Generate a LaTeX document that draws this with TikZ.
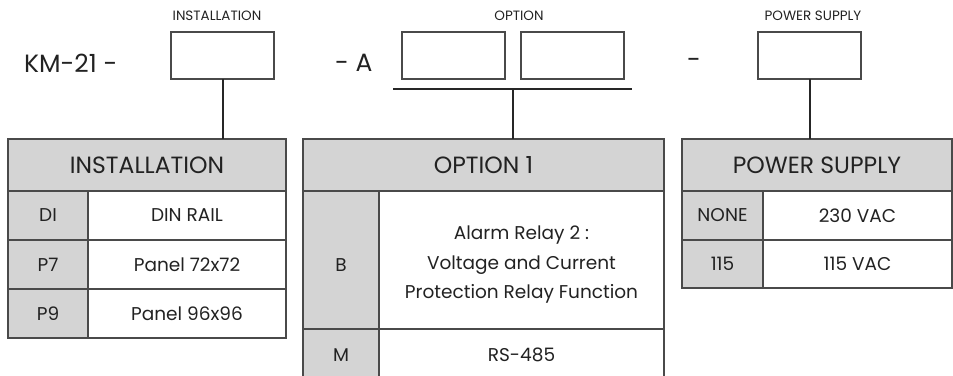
\documentclass[tikz,border=0pt]{standalone}
\usepackage{fontspec}
\setmainfont{Poppins}
\definecolor{cellgray}{HTML}{D4D4D4}
\definecolor{linegray}{HTML}{4A4A4A}
\definecolor{txt}{HTML}{222222}
\begin{document}
\begin{tikzpicture}[x=1pt,y=-1pt,
  cell/.style={draw=linegray, line width=1.3pt, anchor=north west, inner sep=0pt, outer sep=0pt, align=center, text=txt, font=\fontsize{18.5}{29.5}\selectfont},
  codecell/.style={cell, fill=cellgray},
  headcell/.style={cell, fill=cellgray, font=\fontsize{23.5}{28}\selectfont},
  celltext/.style={inner sep=0pt, align=center, text=txt, font=\fontsize{18.5}{29.5}\selectfont},
  codebox/.style={draw=linegray, line width=1.1pt, anchor=north west, inner sep=0pt, outer sep=0pt, minimum width=103pt, minimum height=47pt},
  smalllbl/.style={text=txt, font=\fontsize{13.5}{16}\selectfont, inner sep=0pt},
  biglbl/.style={text=txt, font=\fontsize{25}{30}\selectfont, inner sep=0pt},
  conn/.style={draw=black!85, line width=2pt}
]
\clip (0,0) rectangle (953,375);
\useasboundingbox (0,0) rectangle (953,375);

% top code line
\node[biglbl, anchor=west] (km) at (24,63) {KM-21 -};
\node[codebox] (b1) at (171,32) {};
\node[biglbl, anchor=west] (da) at (335,63) {- A};
\node[codebox] (b2) at (402,32) {};
\node[codebox] (b3) at (521,32) {};
\node[biglbl] (dash) at (694,63) {-};
\node[codebox] (b4) at (758,32) {};

\node[smalllbl] (l1) at (217,16) {INSTALLATION};
\node[smalllbl] (l2) at (519,16) {OPTION};
\node[smalllbl] (l3) at (813,16) {POWER SUPPLY};

% installation table
\node[headcell, minimum width=278pt, minimum height=52pt] (ih) at (8,139) {INSTALLATION};
\node[codecell, minimum width=80pt, minimum height=49pt] (ic1) at (8,191) {DI};
\node[cell, minimum width=198pt, minimum height=49pt] (id1) at (88,191) {DIN RAIL};
\node[codecell, minimum width=80pt, minimum height=49pt] (ic2) at (8,240) {P7};
\node[cell, minimum width=198pt, minimum height=49pt] (id2) at (88,240) {Panel 72x72};
\node[codecell, minimum width=80pt, minimum height=49pt] (ic3) at (8,289) {P9};
\node[cell, minimum width=198pt, minimum height=49pt] (id3) at (88,289) {Panel 96x96};

% option table
\node[headcell, minimum width=361pt, minimum height=52pt] (oh) at (303,139) {OPTION 1};
\node[codecell, minimum width=76pt, minimum height=138pt] (oc1) at (303,191) {};
\node[cell, minimum width=285pt, minimum height=138pt] (od1) at (379,191) {};
\node[celltext] (oc1t) at ([yshift=-5pt]oc1.center) {B};
\node[celltext] (od1t) at ([yshift=-5pt]od1.center) {Alarm Relay 2 :\\Voltage and Current\\Protection Relay Function};
\node[codecell, minimum width=76pt, minimum height=52pt] (oc2) at (303,329) {M};
\node[cell, minimum width=285pt, minimum height=52pt] (od2) at (379,329) {RS-485};

% power supply table
\node[headcell, minimum width=270pt, minimum height=52pt] (ph) at (682,139) {POWER SUPPLY};
\node[codecell, minimum width=81pt, minimum height=49pt] (pc1) at (682,191) {NONE};
\node[cell, minimum width=189pt, minimum height=49pt] (pd1) at (763,191) {230 VAC};
\node[codecell, minimum width=81pt, minimum height=48pt] (pc2) at (682,240) {115};
\node[cell, minimum width=189pt, minimum height=48pt] (pd2) at (763,240) {115 VAC};

% connectors
\draw[conn] (b1.south) -- (b1.south |- ih.north);
\coordinate (busL) at (393,89);
\coordinate (busR) at (632,89);
\coordinate (busM) at (513,89);
\draw[conn] (busL) -- (busR);
\draw[conn] (busM) -- (busM |- oh.north);
\draw[conn] (b4.south) -- (b4.south |- ph.north);
\end{tikzpicture}
\end{document}
